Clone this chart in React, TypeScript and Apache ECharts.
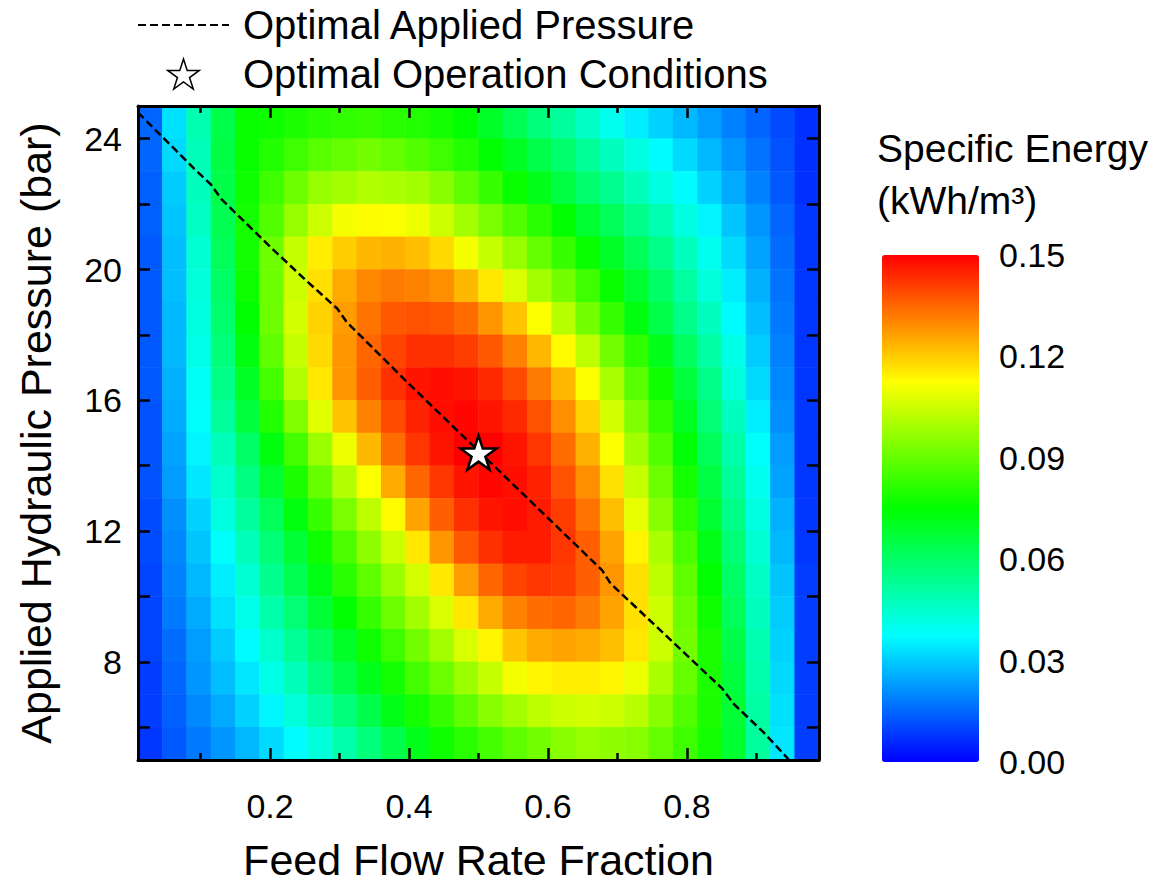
import React, { useEffect, useRef } from 'react';
import * as echarts from 'echarts';

// Feed flow rate fraction at the centre of each heatmap column (0.01 .. 0.99, 28 columns)
const flowCenters = [0.0275, 0.0625, 0.0975, 0.1325, 0.1675, 0.2025, 0.2375, 0.2725, 0.3075, 0.3425, 0.3775, 0.4125, 0.4475, 0.4825, 0.5175, 0.5525, 0.5875, 0.6225, 0.6575, 0.6925, 0.7275, 0.7625, 0.7975, 0.8325, 0.8675, 0.9025, 0.9375, 0.9725];
// Applied hydraulic pressure (bar) at the centre of each heatmap row, top to bottom
const pressureCenters = [24.5, 23.5, 22.5, 21.5, 20.5, 19.5, 18.5, 17.5, 16.5, 15.5, 14.5, 13.5, 12.5, 11.5, 10.5, 9.5, 8.5, 7.5, 6.5, 5.5];

// Specific energy (kWh/m3), one row per pressure (top to bottom), one value per flow column
const se245 = [0.015, 0.033, 0.049, 0.064, 0.076, 0.077, 0.079, 0.081, 0.082, 0.083, 0.081, 0.080, 0.078, 0.075, 0.069, 0.063, 0.057, 0.052, 0.046, 0.040, 0.035, 0.031, 0.027, 0.023, 0.019, 0.015, 0.011, 0.007];
const se235 = [0.015, 0.032, 0.048, 0.065, 0.076, 0.080, 0.084, 0.088, 0.090, 0.092, 0.090, 0.087, 0.084, 0.080, 0.075, 0.070, 0.064, 0.059, 0.053, 0.047, 0.042, 0.037, 0.032, 0.027, 0.022, 0.017, 0.012, 0.007];
const se225 = [0.014, 0.030, 0.047, 0.064, 0.077, 0.084, 0.091, 0.097, 0.099, 0.101, 0.100, 0.099, 0.095, 0.089, 0.083, 0.076, 0.071, 0.065, 0.059, 0.054, 0.048, 0.042, 0.037, 0.031, 0.025, 0.019, 0.013, 0.007];
const se215 = [0.014, 0.029, 0.046, 0.063, 0.078, 0.087, 0.097, 0.105, 0.111, 0.113, 0.112, 0.110, 0.105, 0.099, 0.093, 0.087, 0.081, 0.075, 0.068, 0.062, 0.055, 0.049, 0.042, 0.036, 0.029, 0.022, 0.015, 0.008];
const se205 = [0.013, 0.028, 0.044, 0.062, 0.078, 0.091, 0.104, 0.115, 0.120, 0.123, 0.124, 0.122, 0.118, 0.111, 0.104, 0.097, 0.090, 0.083, 0.076, 0.069, 0.062, 0.055, 0.047, 0.040, 0.032, 0.024, 0.016, 0.008];
const se195 = [0.013, 0.028, 0.043, 0.060, 0.077, 0.091, 0.105, 0.117, 0.125, 0.130, 0.132, 0.131, 0.129, 0.123, 0.116, 0.107, 0.099, 0.092, 0.084, 0.076, 0.068, 0.060, 0.051, 0.043, 0.035, 0.026, 0.017, 0.008];
const se185 = [0.013, 0.027, 0.042, 0.059, 0.075, 0.091, 0.106, 0.119, 0.127, 0.133, 0.137, 0.138, 0.137, 0.134, 0.128, 0.121, 0.112, 0.102, 0.092, 0.083, 0.073, 0.064, 0.055, 0.047, 0.037, 0.028, 0.018, 0.008];
const se175 = [0.013, 0.027, 0.041, 0.057, 0.073, 0.089, 0.104, 0.118, 0.128, 0.135, 0.140, 0.143, 0.143, 0.141, 0.137, 0.131, 0.123, 0.113, 0.103, 0.092, 0.082, 0.071, 0.061, 0.051, 0.041, 0.030, 0.019, 0.008];
const se165 = [0.013, 0.026, 0.039, 0.055, 0.070, 0.085, 0.101, 0.116, 0.128, 0.136, 0.143, 0.147, 0.148, 0.147, 0.144, 0.139, 0.132, 0.123, 0.112, 0.100, 0.088, 0.077, 0.066, 0.055, 0.043, 0.032, 0.020, 0.008];
const se155 = [0.012, 0.025, 0.038, 0.052, 0.066, 0.080, 0.094, 0.108, 0.121, 0.131, 0.139, 0.145, 0.148, 0.149, 0.147, 0.144, 0.138, 0.129, 0.119, 0.106, 0.094, 0.082, 0.070, 0.058, 0.047, 0.035, 0.021, 0.008];
const se145 = [0.012, 0.024, 0.036, 0.048, 0.060, 0.073, 0.085, 0.098, 0.110, 0.123, 0.134, 0.142, 0.147, 0.150, 0.150, 0.147, 0.142, 0.134, 0.124, 0.112, 0.099, 0.087, 0.074, 0.062, 0.050, 0.038, 0.023, 0.008];
const se135 = [0.012, 0.023, 0.034, 0.045, 0.056, 0.068, 0.079, 0.090, 0.101, 0.112, 0.125, 0.135, 0.142, 0.147, 0.149, 0.148, 0.145, 0.138, 0.129, 0.117, 0.104, 0.091, 0.078, 0.065, 0.052, 0.040, 0.024, 0.008];
const se125 = [0.011, 0.021, 0.031, 0.042, 0.052, 0.062, 0.073, 0.083, 0.093, 0.103, 0.113, 0.126, 0.136, 0.143, 0.147, 0.148, 0.146, 0.141, 0.133, 0.122, 0.109, 0.095, 0.082, 0.068, 0.055, 0.042, 0.026, 0.008];
const se115 = [0.011, 0.020, 0.029, 0.038, 0.048, 0.058, 0.067, 0.077, 0.086, 0.096, 0.105, 0.116, 0.128, 0.137, 0.143, 0.146, 0.146, 0.142, 0.136, 0.126, 0.114, 0.100, 0.086, 0.072, 0.058, 0.044, 0.027, 0.008];
const se105 = [0.010, 0.019, 0.027, 0.035, 0.044, 0.054, 0.063, 0.072, 0.081, 0.089, 0.098, 0.106, 0.116, 0.127, 0.135, 0.140, 0.142, 0.141, 0.136, 0.128, 0.117, 0.103, 0.089, 0.075, 0.060, 0.046, 0.029, 0.009];
const se095 = [0.010, 0.018, 0.025, 0.033, 0.041, 0.050, 0.058, 0.067, 0.075, 0.083, 0.091, 0.099, 0.107, 0.116, 0.125, 0.131, 0.134, 0.135, 0.132, 0.126, 0.117, 0.105, 0.091, 0.077, 0.062, 0.047, 0.030, 0.009];
const se085 = [0.010, 0.016, 0.023, 0.030, 0.037, 0.045, 0.053, 0.061, 0.069, 0.077, 0.084, 0.092, 0.099, 0.107, 0.114, 0.121, 0.125, 0.126, 0.125, 0.122, 0.116, 0.105, 0.092, 0.079, 0.064, 0.049, 0.031, 0.009];
const se075 = [0.009, 0.015, 0.022, 0.028, 0.034, 0.041, 0.048, 0.056, 0.064, 0.071, 0.078, 0.085, 0.091, 0.098, 0.104, 0.111, 0.114, 0.115, 0.115, 0.114, 0.110, 0.100, 0.090, 0.079, 0.066, 0.050, 0.032, 0.009];
const se065 = [0.009, 0.014, 0.020, 0.025, 0.031, 0.036, 0.043, 0.050, 0.057, 0.064, 0.072, 0.078, 0.083, 0.089, 0.095, 0.099, 0.103, 0.105, 0.106, 0.105, 0.102, 0.095, 0.087, 0.079, 0.067, 0.051, 0.033, 0.009];
const se055 = [0.008, 0.013, 0.018, 0.022, 0.027, 0.032, 0.037, 0.043, 0.050, 0.057, 0.064, 0.071, 0.077, 0.081, 0.085, 0.089, 0.092, 0.095, 0.097, 0.096, 0.095, 0.090, 0.084, 0.078, 0.068, 0.052, 0.034, 0.009];
const energyRows = [se245, se235, se225, se215, se205, se195, se185, se175, se165, se155, se145, se135, se125, se115, se105, se095, se085, se075, se065, se055];

// Optimal applied pressure curve
const optimalFlow = [0.01, 0.05, 0.09, 0.115, 0.13, 0.2, 0.25, 0.297, 0.31, 0.4, 0.5, 0.6, 0.678, 0.69, 0.75, 0.85, 0.868, 0.91, 0.947];
const optimalPressure = [24.8, 23.95, 23.1, 22.6, 22.15, 20.7, 19.7, 18.8, 18.4, 16.5, 14.45, 12.4, 10.8, 10.4, 9.2, 7.2, 6.7, 5.85, 5.0];
// Optimal operation conditions [flow fraction, pressure]
const optimumPoint = [0.5, 14.4];

// Axis ticks and labels
const xMajorTicks = [0.2, 0.4, 0.6, 0.8];
const xMinorTicks = [0.1, 0.3, 0.5, 0.7, 0.9];
const yTicks = [6, 8, 10, 12, 14, 16, 18, 20, 22, 24];
const yLabels = [8, 12, 16, 20, 24];
const colorbarTicks = [0, 0.03, 0.06, 0.09, 0.12, 0.15];
const rainbow = ['#0000ff', '#00ffff', '#00ff00', '#ffff00', '#ff0000'];

const FONT = "'Liberation Sans', Arial, Helvetica, sans-serif";
const STAR = 'path://M50 0L61.2 34.5L97.6 34.5L68.2 55.9L79.4 90.5L50 69.1L20.6 90.5L31.8 55.9L2.4 34.5L38.8 34.5Z';

export default function App() {
  const ref = useRef<HTMLDivElement>(null);

  useEffect(() => {
    if (!ref.current) return;
    const chart = echarts.init(ref.current, undefined, { renderer: 'svg' });

    const yCats = [...pressureCenters].reverse().map(String);
    const heatData: number[][] = [];
    energyRows.forEach((row, ri) => {
      const yi = energyRows.length - 1 - ri;
      row.forEach((v, xi) => heatData.push([xi, yi, v]));
    });
    const lineData = optimalFlow.map((x, i) => [x, optimalPressure[i]]);

    const black = '#000000';
    const frame = { show: true, onZero: false, lineStyle: { color: black, width: 3 } };
    const tickStyle = { color: black, width: 2.5 };
    const labelStyle = { color: black, fontSize: 34, fontFamily: FONT };

    const option: any = {
      animation: false,
      backgroundColor: '#ffffff',
      grid: [
        { left: 138, top: 106, width: 681, height: 654, show: false, outerBoundsMode: 'none', containLabel: false },
        { left: 882, top: 255, width: 97, height: 507, show: false, outerBoundsMode: 'none', containLabel: false },
      ],
      xAxis: [
        { type: 'category', gridIndex: 0, data: flowCenters.map(String), show: false },
        {
          type: 'value', gridIndex: 0, min: 0.01, max: 0.99, position: 'bottom', z: 10,
          axisLine: frame,
          axisTick: { show: true, inside: true, length: 12, customValues: xMajorTicks, lineStyle: tickStyle },
          axisLabel: { show: true, customValues: xMajorTicks, margin: 29, ...labelStyle },
          splitLine: { show: false },
          name: 'Feed Flow Rate Fraction', nameLocation: 'middle', nameGap: 78,
          nameTextStyle: { color: black, fontSize: 43, fontFamily: FONT },
        },
        {
          type: 'value', gridIndex: 0, min: 0.01, max: 0.99, position: 'bottom', z: 10,
          axisLine: { show: false },
          axisTick: { show: true, inside: true, length: 7, customValues: xMinorTicks, lineStyle: tickStyle },
          axisLabel: { show: false }, splitLine: { show: false },
        },
        {
          type: 'value', gridIndex: 0, min: 0.01, max: 0.99, position: 'top', z: 10,
          axisLine: frame,
          axisTick: { show: true, inside: true, length: 12, customValues: xMajorTicks, lineStyle: tickStyle },
          axisLabel: { show: false }, splitLine: { show: false },
        },
        {
          type: 'value', gridIndex: 0, min: 0.01, max: 0.99, position: 'top', z: 10,
          axisLine: { show: false },
          axisTick: { show: true, inside: true, length: 7, customValues: xMinorTicks, lineStyle: tickStyle },
          axisLabel: { show: false }, splitLine: { show: false },
        },
        { type: 'value', gridIndex: 1, min: 0, max: 1, show: false },
      ],
      yAxis: [
        { type: 'category', gridIndex: 0, data: yCats, show: false },
        {
          type: 'value', gridIndex: 0, min: 5, max: 25, position: 'left', z: 10,
          axisLine: frame,
          axisTick: { show: true, inside: true, length: 12, customValues: yTicks, lineStyle: tickStyle },
          axisLabel: { show: true, customValues: yLabels, margin: 16, ...labelStyle },
          splitLine: { show: false },
          name: 'Applied Hydraulic Pressure (bar)', nameLocation: 'middle', nameGap: 81,
          nameTextStyle: { color: black, fontSize: 43, fontFamily: FONT },
        },
        {
          type: 'value', gridIndex: 0, min: 5, max: 25, position: 'right', z: 10,
          axisLine: frame,
          axisTick: { show: true, inside: true, length: 12, customValues: yTicks, lineStyle: tickStyle },
          axisLabel: { show: false }, splitLine: { show: false },
        },
        {
          type: 'value', gridIndex: 1, min: 0, max: 0.15, position: 'right',
          axisLine: { show: false }, axisTick: { show: false }, splitLine: { show: false },
          axisLabel: {
            show: true, customValues: colorbarTicks, margin: 20, ...labelStyle,
            formatter: (v: number) => v.toFixed(2),
          },
        },
      ],
      visualMap: {
        type: 'continuous', seriesIndex: 0, min: 0, max: 0.15, calculable: false,
        orient: 'vertical', left: 882, top: 255, itemWidth: 97, itemHeight: 507, padding: 0,
        hoverLink: false, inRange: { color: rainbow },
      },
      legend: {
        orient: 'vertical', left: 137, top: 5, padding: 0, itemWidth: 91, itemHeight: 30, itemGap: 9,
        selectedMode: false,
        textStyle: { color: black, fontSize: 40, fontFamily: FONT, padding: [0, 0, 0, 9] },
        data: [
          { name: 'Optimal Applied Pressure', itemStyle: { opacity: 0 } },
          { name: 'Optimal Operation Conditions', itemStyle: { borderWidth: 1.5, opacity: 1 } },
        ],
      },
      graphic: [
        { type: 'text', x: 877, y: 148, style: { text: 'Specific Energy', fill: black, fontSize: 39, fontFamily: FONT, align: 'left', verticalAlign: 'middle' } },
        { type: 'text', x: 877, y: 200, style: { text: '(kWh/m³)', fill: black, fontSize: 39, fontFamily: FONT, align: 'left', verticalAlign: 'middle' } },
      ],
      series: [
        {
          type: 'heatmap', xAxisIndex: 0, yAxisIndex: 0, data: heatData,
          progressive: 0, emphasis: { disabled: true }, z: 1,
        },
        {
          type: 'line', name: 'Optimal Applied Pressure', xAxisIndex: 1, yAxisIndex: 1,
          data: lineData, symbol: 'none', z: 5,
          lineStyle: { color: black, width: 2.5, type: [8, 4] }, itemStyle: { color: black },
        },
        {
          type: 'scatter', name: 'Optimal Operation Conditions', xAxisIndex: 1, yAxisIndex: 1,
          data: [optimumPoint], symbol: STAR, symbolSize: 36, symbolKeepAspect: true, z: 6,
          itemStyle: { color: '#ffffff', borderColor: black, borderWidth: 2.5, opacity: 1 },
        },
      ],
    };

    chart.setOption(option);
    return () => chart.dispose();
  }, []);

  return (
    <div
      ref={ref}
      style={{ position: 'fixed', left: 0, top: 0, width: 1166, height: 883, background: '#ffffff' }}
    />
  );
}
